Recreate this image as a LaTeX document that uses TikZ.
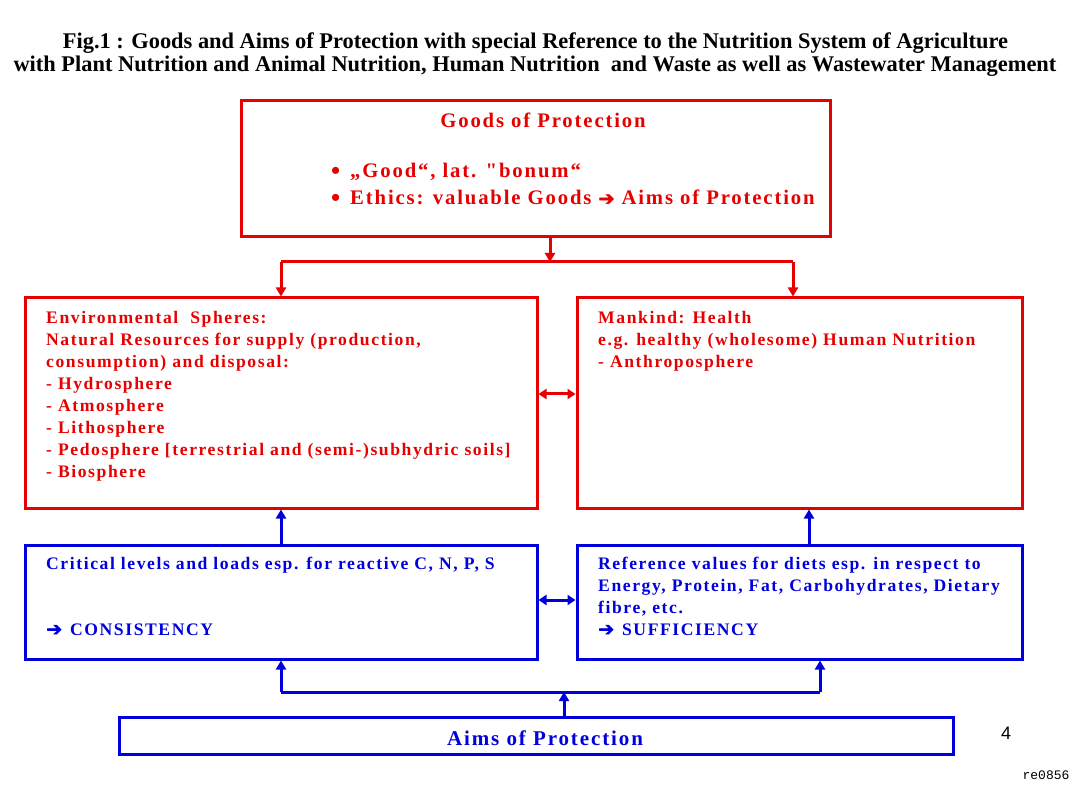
\documentclass[tikz,border=0pt]{standalone}
\usepackage{fontspec}
\setmainfont{Liberation Serif}
\newfontfamily\boxfont[LetterSpace=9]{Liberation Serif}
\newfontfamily\arrowfont[FakeBold=2.5]{DejaVu Sans}
\newfontfamily\numfont{Liberation Sans}
\newfontfamily\codefont{Liberation Mono}
\usetikzlibrary{arrows.meta}
\definecolor{pred}{RGB}{230,0,0}
\definecolor{pblue}{RGB}{0,0,220}
\tikzset{
  box/.style={draw, line width=3pt, inner sep=0pt, fill=none},
  redbox/.style={box, draw=pred},
  bluebox/.style={box, draw=pblue},
  redline/.style={draw=pred, line width=3pt},
  blueline/.style={draw=pblue, line width=3pt},
  tip/.style={-{Triangle[length=9pt,width=10pt]}},
  dtip/.style={{Triangle[length=8pt,width=10pt]}-{Triangle[length=8pt,width=10pt]}},
  txt/.style={inner sep=0pt, align=left, anchor=north west,
    font=\boxfont\bfseries\fontsize{17.6}{22}\selectfont},
  redtxt/.style={txt, text=pred},
  bluetxt/.style={txt, text=pblue},
  goodstxt/.style={inner sep=0pt, text=pred, font=\boxfont\bfseries\fontsize{20.7}{24}\selectfont},
  titletxt/.style={inner sep=0pt, anchor=base, font=\bfseries\fontsize{22.4}{24}\selectfont}
}
\newcommand{\harrow}{{\arrowfont\fontsize{19}{19}\selectfont ➔}}
\newcommand{\hbul}{\makebox[19pt][l]{\raisebox{-1.5pt}{\fontsize{26}{26}\selectfont •}}}
\begin{document}
\begin{tikzpicture}[x=1pt,y=-1pt]
\useasboundingbox (0,0) rectangle (1077,786);
\fill[white] (0,0) rectangle (1077,786);

% title
\node[titletxt] (t1) at (535.5,49) {Fig.1 : Goods and Aims of Protection with special Reference to the Nutrition System of Agriculture};
\node[titletxt] (t2) at (535,72) {with Plant Nutrition and Animal Nutrition, Human Nutrition\ \ and Waste as well as Wastewater Management};

% boxes
\node[redbox, minimum width=589pt, minimum height=136pt] (goods) at (535.5,169) {};
\node[redbox, minimum width=512pt, minimum height=210pt] (env) at (281,403) {};
\node[redbox, minimum width=445pt, minimum height=210pt] (man) at (799.5,403) {};
\node[bluebox, minimum width=512pt, minimum height=114pt] (crit) at (281,602) {};
\node[bluebox, minimum width=445pt, minimum height=114pt] (ref) at (799.5,602) {};
\node[bluebox, minimum width=834pt, minimum height=37pt] (aims) at (536,735.5) {};

% texts in goods box
\node[goodstxt, anchor=base] (goodsT) at (543,128) {Goods of Protection};
\node[goodstxt, anchor=base west] (b1) at (331,178) {\hbul „Good“, lat. "bonum“};
\node[goodstxt, anchor=base west] (b2) at (331,205) {\hbul Ethics: valuable Goods \harrow\ Aims of Protection};

\node[redtxt] (envT) at (46,311) {Environmental\ \ Spheres:\\
Natural Resources for supply (production,\\
consumption) and disposal:\\
- Hydrosphere\\
- Atmosphere\\
- Lithosphere\\
- Pedosphere [terrestrial and (semi-)subhydric soils]\\
- Biosphere};

\node[redtxt] (manT) at (598,311) {Mankind: Health\\
e.g. healthy (wholesome) Human Nutrition\\
- Anthroposphere};

\node[bluetxt] (critT) at (46,557) {Critical levels and loads esp. for reactive C, N, P, S\\[44pt]
\harrow\hspace{8pt}CONSISTENCY};

\node[bluetxt] (refT) at (598,557) {Reference values for diets esp. in respect to\\
Energy, Protein, Fat, Carbohydrates, Dietary\\
fibre, etc.\\
\harrow\hspace{8pt}SUFFICIENCY};

\node[inner sep=0pt, anchor=base, text=pblue, font=\boxfont\bfseries\fontsize{21}{24}\selectfont] (aimsT) at (545,745) {Aims of Protection};

\node[inner sep=0pt, font=\numfont\fontsize{18}{20}\selectfont] (pg) at (1006,733) {4};
\node[inner sep=0pt, font=\codefont\fontsize{13}{15}\selectfont] (code) at (1046,775) {re0856};

% red connectors
\coordinate (j1) at (550,262);
\coordinate (jl) at (281,262);
\coordinate (jr) at (793,262);
\draw[redline, tip] (goods.south -| j1) -- (j1);
\draw[redline] (jl) -- (jr);
\draw[redline, tip] (jl) -- (jl |- env.north);
\draw[redline, tip] (jr) -- (jr |- man.north);
\coordinate (m1) at (557,394);
\draw[redline, dtip] (env.east |- m1) -- (man.west |- m1);

% blue connectors
\coordinate (ul) at (281,545);
\coordinate (ur) at (809,545);
\draw[blueline, tip] (crit.north -| ul) -- (env.south -| ul);
\draw[blueline, tip] (ref.north -| ur) -- (man.south -| ur);
\coordinate (m2) at (557,600);
\draw[blueline, dtip] (crit.east |- m2) -- (ref.west |- m2);
\coordinate (bl) at (281,692);
\coordinate (br) at (820,692);
\coordinate (bc) at (564,692);
\draw[blueline] (bl) -- (br);
\draw[blueline, tip] (bl) -- (bl |- crit.south);
\draw[blueline, tip] (br) -- (br |- ref.south);
\draw[blueline, tip] (aims.north -| bc) -- (bc);
\end{tikzpicture}
\end{document}
